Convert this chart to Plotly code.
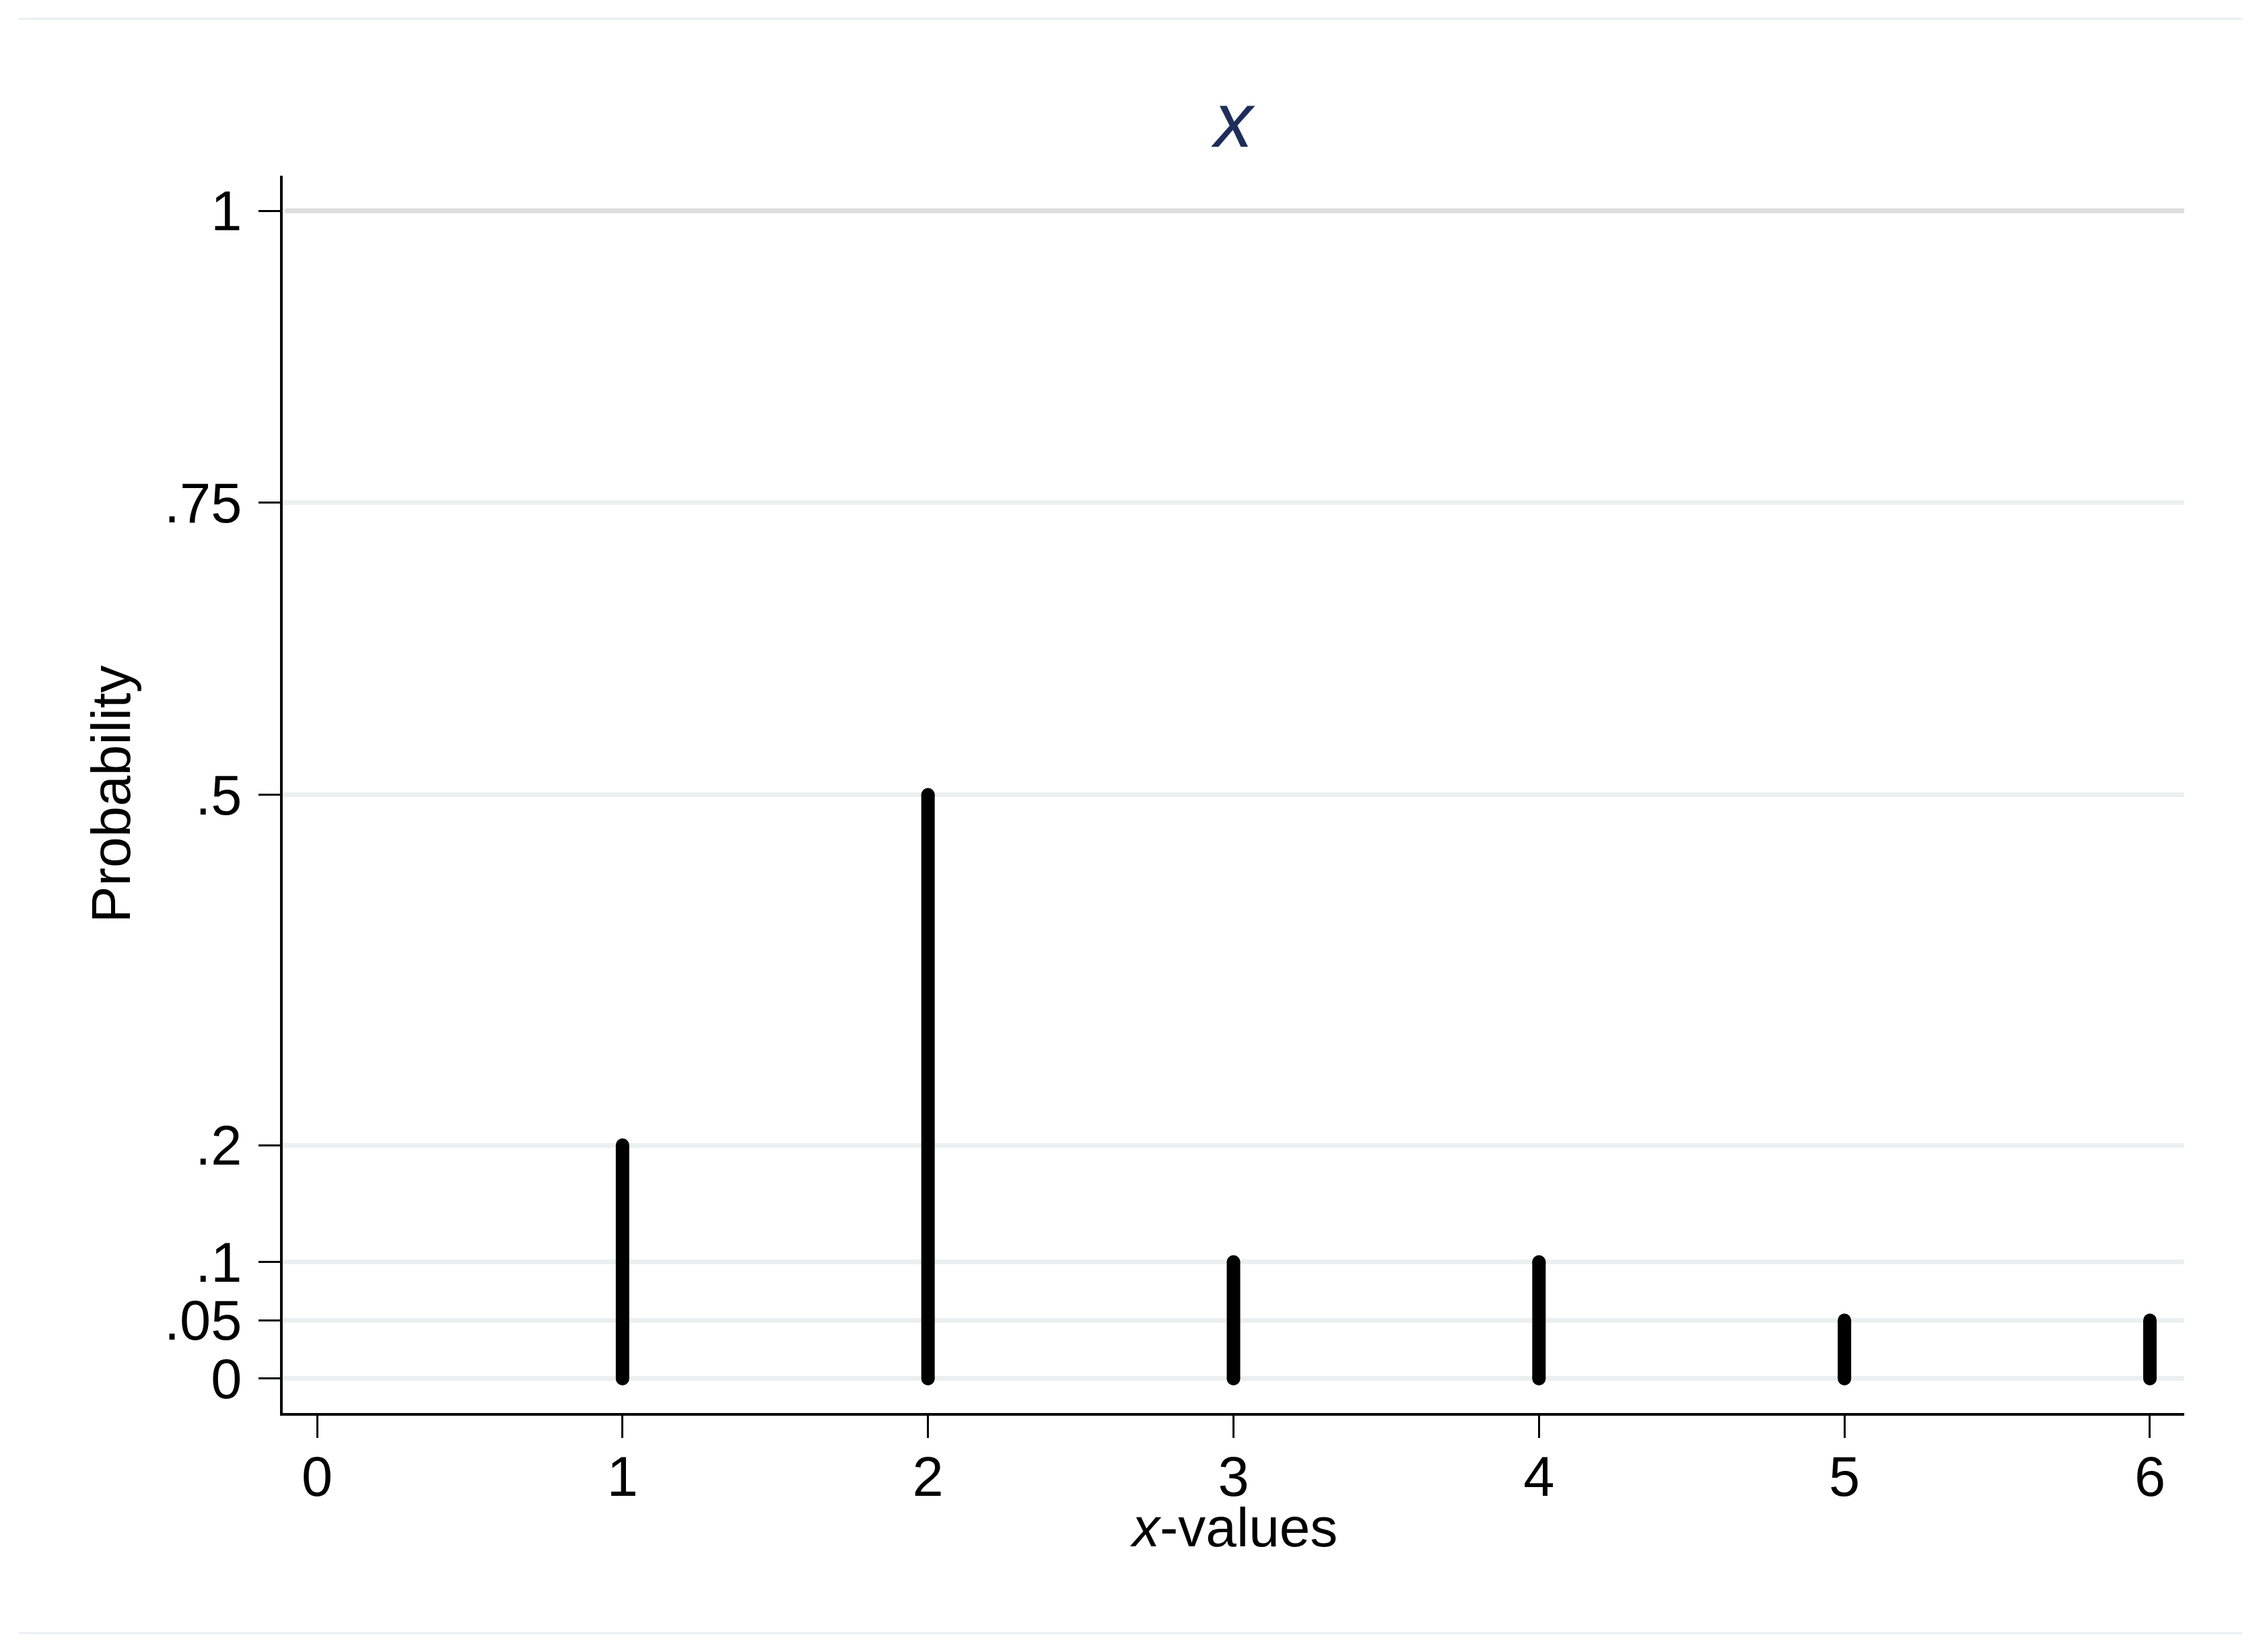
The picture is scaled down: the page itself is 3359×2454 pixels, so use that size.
import plotly.graph_objects as go

# ---- data ----
x_values = [1, 2, 3, 4, 5, 6]
probabilities = [0.2, 0.5, 0.1, 0.1, 0.05, 0.05]
y_tick_vals = [0, 0.05, 0.1, 0.2, 0.5, 0.75, 1]
y_tick_text = ["0", ".05", ".1", ".2", ".5", ".75", "1"]
x_tick_vals = [0, 1, 2, 3, 4, 5, 6]
x_tick_text = ["0", "1", "2", "3", "4", "5", "6"]

# ---- layout geometry (page px; the html body adds an 8px offset) ----
OFF = 8
W, H = 3359 - OFF, 2454 - OFF
L, R, T, B = 420 - OFF, 114, 261 - OFF, 355
PW, PH = W - L - R, H - T - B
AX_Y = 2099 - OFF  # x-axis line in figure coords
FONT = "Liberation Sans, Arial, sans-serif"

fig = go.Figure()

# spikes built from data arrays
sx, sy = [], []
for xv, pv in zip(x_values, probabilities):
    sx += [xv, xv, None]
    sy += [0, pv, None]
fig.add_trace(go.Scatter(x=sx, y=sy, mode="lines",
                         line=dict(color="black", width=20),
                         hoverinfo="skip", showlegend=False))
# round caps
cx, cy = [], []
for xv, pv in zip(x_values, probabilities):
    cx += [xv, xv]
    cy += [0, pv]
fig.add_trace(go.Scatter(x=cx, y=cy, mode="markers",
                         marker=dict(color="black", size=20, symbol="circle", line=dict(width=0)),
                         hoverinfo="skip", showlegend=False))

fig.update_layout(
    width=W, height=H,
    margin=dict(l=L, r=R, t=T, b=B, autoexpand=False),
    paper_bgcolor="white", plot_bgcolor="white",
    showlegend=False,
    font=dict(family=FONT, color="black", size=82),
    title=dict(text="<i>x</i>", x=(L + PW / 2) / W, xanchor="center",
               xref="container", yref="container", y=1 - 170 / H, yanchor="middle",
               font=dict(family=FONT, size=115, color="#1e2d5a")),
    xaxis=dict(range=[-0.1124, 6.1124], tickmode="array", tickvals=x_tick_vals,
               ticktext=x_tick_text, showgrid=False, zeroline=False,
               showline=True, linecolor="black", linewidth=4,
               ticks="outside", ticklen=33, tickwidth=3, tickcolor="black",
               ticklabelstandoff=-14,
               tickfont=dict(family=FONT, size=83, color="black")),
    yaxis=dict(range=[-0.0294, 1.030], tickmode="array", tickvals=y_tick_vals,
               ticktext=y_tick_text, showgrid=True, gridcolor="#eaf0f2", gridwidth=7,
               zeroline=False, showline=True, linecolor="black", linewidth=4,
               ticks="outside", ticklen=32, tickwidth=3, tickcolor="black",
               ticklabelstandoff=8,
               tickfont=dict(family=FONT, size=83, color="black")),
    annotations=[
        dict(text="<i>x</i>-values", xref="paper", yref="paper",
             x=0.5, y=(AX_Y - (2268 - OFF)) / PH, xanchor="center", yanchor="middle",
             showarrow=False, font=dict(family=FONT, size=82, color="black")),
        dict(text="Probability", xref="paper", yref="paper",
             x=((164 - OFF) - L) / PW, y=0.5, xanchor="center", yanchor="middle",
             textangle=-90, showarrow=False,
             font=dict(family=FONT, size=82, color="black")),
    ],
    shapes=[
        # darker gridline at the top tick
        dict(type="line", xref="paper", yref="y", x0=0.0015, x1=1, y0=y_tick_vals[-1], y1=y_tick_vals[-1],
             line=dict(color="#dedede", width=7), layer="above"),
        # outer frame lines (top and bottom)
        dict(type="line", xref="paper", yref="paper",
             x0=((28 - OFF) - L) / PW, x1=((3331 - OFF) - L) / PW,
             y0=(AX_Y - (28 - OFF)) / PH, y1=(AX_Y - (28 - OFF)) / PH,
             line=dict(color="#e8eef2", width=3)),
        dict(type="line", xref="paper", yref="paper",
             x0=((28 - OFF) - L) / PW, x1=((3331 - OFF) - L) / PW,
             y0=(AX_Y - (2426 - OFF)) / PH, y1=(AX_Y - (2426 - OFF)) / PH,
             line=dict(color="#e8eef2", width=3)),
    ],
)

fig.write_html("out.html")
